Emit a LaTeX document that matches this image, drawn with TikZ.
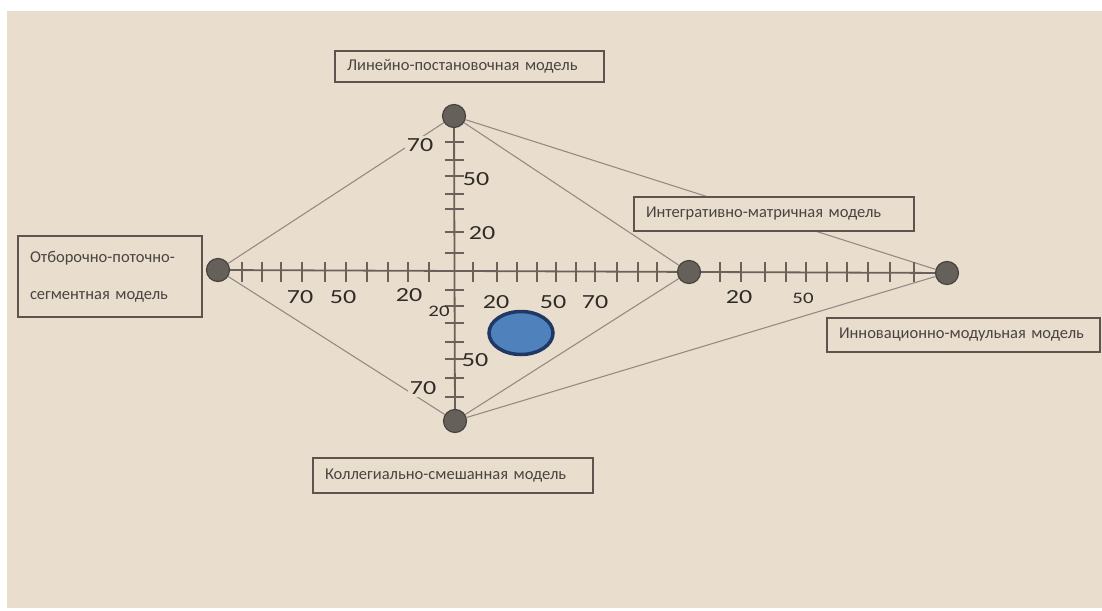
\documentclass[tikz,border=0pt]{standalone}
\usepackage{fontspec}
\usepackage{graphicx}
\setmainfont{Carlito}
\usetikzlibrary{shapes.geometric}
\definecolor{bgc}{HTML}{E9DECE}
\definecolor{boxline}{HTML}{5C544D}
\definecolor{txt}{HTML}{4A4440}
\definecolor{numc}{HTML}{302B27}
\definecolor{axisc}{HTML}{6A615A}
\definecolor{connc}{HTML}{968B82}
\definecolor{dotfill}{HTML}{656059}
\definecolor{dotline}{HTML}{48433F}
\definecolor{ellfill}{HTML}{4F81BD}
\definecolor{ellline}{HTML}{1F3864}
\pgfdeclarelayer{back}
\pgfdeclarelayer{bg}
\pgfsetlayers{back,bg,main}
\newcommand\nm[1]{\scalebox{1.3}[1]{\fontsize{20}{22}\selectfont #1}}
\newcommand\nms[1]{\scalebox{1.3}[1]{\fontsize{16}{18}\selectfont #1}}
\begin{document}
\begin{tikzpicture}[x=1pt,y=-1pt,
  modelbox/.style={draw=boxline, line width=1.3pt, fill=bgc, rectangle, inner xsep=12pt, inner ysep=0pt,
    text=txt, font=\fontsize{16.5}{19}\selectfont, align=left},
  dot/.style={circle, fill=dotfill, draw=dotline, line width=1.2pt, minimum size=23pt, inner sep=0pt},
  conn/.style={draw=connc, line width=1.1pt},
  axisline/.style={draw=axisc, line width=1.8pt},
  tick/.style={draw=axisc, line width=1.3pt},
  num/.style={text=numc, inner sep=1pt},
  numfill/.style={num, fill=bgc, inner sep=2pt}]
\useasboundingbox (0,0) rectangle (1102,610);
\begin{pgfonlayer}{back}
\fill[white] (0,0) rectangle (1102,610);
\fill[bgc] (7,11) rectangle (1102,608);
\end{pgfonlayer}

% dots
\node[dot] (T) at (454,116) {};
\node[dot] (B) at (455,421) {};
\node[dot] (L) at (218,270) {};
\node[dot] (M) at (689,272) {};
\node[dot] (R) at (947,273) {};

% boxes
\node[modelbox, minimum width=269pt, minimum height=31pt, text width=245pt] (tbox) at (469.5,66.5) {Линейно-постановочная модель};
\node[modelbox, minimum width=184pt, minimum height=81pt, text width=160pt] (lbox) at (110,276.5) {Отборочно-поточно-\\[18pt]сегментная модель\\[6pt]};
\node[modelbox, minimum width=280pt, minimum height=34pt, text width=256pt] (ibox) at (774,214) {Интегративно-матричная модель};
\node[modelbox, minimum width=273pt, minimum height=34pt, text width=249pt] (nbox) at (963.5,335) {Инновационно-модульная модель};
\node[modelbox, minimum width=280pt, minimum height=35pt, text width=256pt] (bbox) at (453,475.5) {Коллегиально-смешанная модель};

\begin{pgfonlayer}{bg}
\draw[conn] (T) -- (L);
\draw[conn] (T) -- (M);
\draw[conn] (T) -- (R);
\draw[conn] (B) -- (L);
\draw[conn] (B) -- (M);
\draw[conn] (B) -- (R);
\draw[axisline] (L.center) -- (R.center);
\draw[axisline] (T.center) -- (B.center);
% horizontal ticks
\foreach \x in {242,262,281,302,325,346,367,388,408,429,473,497,517,537,556,576,595,617,638,657,720,741,765,786,806,827,847,868,890,914}
  \draw[tick] (\x,262) -- (\x,282);
% vertical ticks
\foreach \y in {142,160,176,194,209,232,253,290,306,323,342,359,378,397}
  \draw[tick] (444.5,\y) -- (463.5,\y);
\end{pgfonlayer}

% axis labels
\node[num] (h70a) at (300,297) {\nm{70}};
\node[num] (h50a) at (343,297) {\nm{50}};
\node[num] (h20a) at (409,295) {\nm{20}};
\node[num] (h20s) at (439,311) {\nms{20}};
\node[num] (h20b) at (496,302) {\nm{20}};
\node[num] (h50b) at (553,302) {\nm{50}};
\node[num] (h70b) at (595,302) {\nm{70}};
\node[num] (h20c) at (739,297) {\nm{20}};
\node[num] (h50c) at (803,298) {\nms{50}};
\node[numfill] (v70a) at (420,145) {\nm{70}};
\node[num] (v50a) at (476,179) {\nm{50}};
\node[num] (v20a) at (482,233) {\nm{20}};
\node[num] (v50b) at (475,360) {\nm{50}};
\node[numfill] (v70b) at (423,388) {\nm{70}};

% blue ellipse
\node[ellipse, draw=ellline, line width=3.5pt, fill=ellfill, minimum width=64pt, minimum height=43pt, inner sep=0pt] (E) at (521,333) {};
\end{tikzpicture}
\end{document}
